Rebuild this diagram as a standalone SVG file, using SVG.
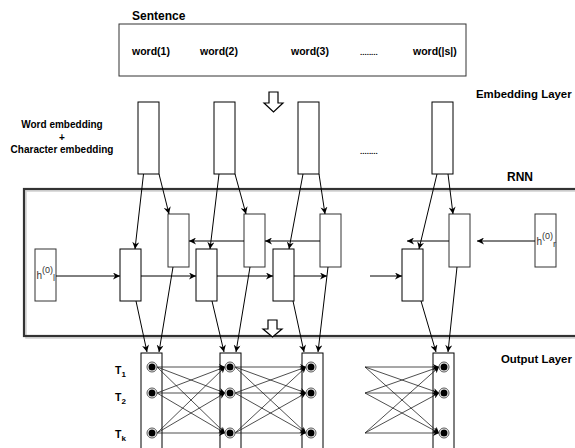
<svg xmlns="http://www.w3.org/2000/svg" width="575" height="448" viewBox="0 0 575 448">
<defs>
<marker id="ah" viewBox="0 0 10 10" refX="10" refY="5" markerWidth="8" markerHeight="7" markerUnits="userSpaceOnUse" orient="auto">
<path d="M0,0 L10,5 L0,10 L3,5 Z" fill="#000"/>
</marker>
<marker id="ahs" viewBox="0 0 10 10" refX="10" refY="5" markerWidth="7" markerHeight="6" markerUnits="userSpaceOnUse" orient="auto">
<path d="M0,0 L10,5 L0,10 L3,5 Z" fill="#000"/>
</marker>
</defs>
<style>
.b{fill:#fff;stroke:#000;stroke-width:1}
.g{fill:#fff;stroke:#333;stroke-width:1}
.t{font-family:"Liberation Sans",Arial,sans-serif;font-weight:bold;fill:#000}
.c{stroke:#000;stroke-width:1;fill:none;marker-end:url(#ah)}
.o{stroke:#222;stroke-width:0.8;fill:none;marker-end:url(#ahs)}
.h{font-family:"Liberation Sans",Arial,sans-serif;fill:#333;font-size:10px}
.ho{fill:#fff;stroke:#000;stroke-width:1.2}
</style>
<rect width="575" height="448" fill="#fff"/>

<!-- Sentence -->
<g id="sentence">
<text class="t" x="132" y="20" font-size="12">Sentence</text>
<rect class="g" x="119" y="24" width="347" height="52" stroke-width="1.3"/>
<text class="t" x="132" y="55" font-size="10.5">word(1)</text>
<text class="t" x="200" y="55" font-size="10.5">word(2)</text>
<text class="t" x="291" y="55" font-size="10.5">word(3)</text>
<text class="t" x="360" y="55" font-size="8" font-weight="normal" fill="#333">........</text>
<text class="t" x="413" y="55" font-size="10.5">word(|s|)</text>
</g>

<path id="arrow-top" class="ho" d="M269,92 H278 V103 H283 L273.5,112 L264,103 H269 Z"/>

<text class="t" x="476" y="98" font-size="11.4">Embedding Layer</text>
<g id="emb-label" class="t" font-size="10" text-anchor="middle">
<text x="62" y="128">Word embedding</text>
<text x="62" y="141">+</text>
<text x="62" y="153">Character embedding</text>
</g>

<g id="emb1"><rect class="b" x="138" y="102" width="21" height="72"/></g>
<g id="emb2"><rect class="b" x="214" y="102" width="21" height="72"/></g>
<g id="emb3"><rect class="b" x="298" y="102" width="21" height="72"/></g>
<g id="emb4"><rect class="b" x="432" y="102" width="21" height="72"/></g>
<text class="t" x="360" y="154" font-size="8" font-weight="normal" fill="#333">........</text>

<text class="t" x="507" y="181" font-size="12">RNN</text>

<!-- RNN frame -->
<g id="rnn-frame">
<rect x="26" y="191" width="560" height="147" fill="none" stroke="#d4d4d4" stroke-width="1.6"/>
<rect x="24" y="189" width="560" height="147" fill="none" stroke="#333" stroke-width="2.2"/>
</g>

<g id="h0l"><rect class="g" x="35" y="249" width="21" height="52"/>
<text class="h" x="36.5" y="279">h<tspan dy="-6" font-size="9">(0)</tspan><tspan dy="8" font-size="9">l</tspan></text></g>
<g id="h0r"><rect class="g" x="535" y="214" width="21" height="53"/>
<text class="h" x="536.5" y="245">h<tspan dy="-6" font-size="9">(0)</tspan><tspan dy="8" font-size="9">r</tspan></text></g>

<g id="f1"><rect class="b" x="120" y="249" width="21" height="52"/></g>
<g id="f2"><rect class="b" x="196" y="249" width="21" height="52"/></g>
<g id="f3"><rect class="b" x="273" y="249" width="21" height="52"/></g>
<g id="f4"><rect class="b" x="402" y="249" width="21" height="52"/></g>
<g id="bk1"><rect class="g" x="168" y="214" width="21" height="53"/></g>
<g id="bk2"><rect class="g" x="244" y="214" width="21" height="53"/></g>
<g id="bk3"><rect class="g" x="320" y="214" width="21" height="53"/></g>
<g id="bk4"><rect class="g" x="449" y="214" width="21" height="53"/></g>

<path id="arrow-bottom" class="ho" d="M268,320 H277 V329 H282 L272.5,337 L263,329 H268 Z"/>

<!-- Output -->
<text class="t" x="501" y="363" font-size="11.4">Output Layer</text>
<g id="tlabels" class="t" font-size="10.5">
<text x="115" y="374">T<tspan font-size="8" dy="3">1</tspan></text>
<text x="115" y="401">T<tspan font-size="8" dy="3">2</tspan></text>
<text x="115" y="438">T<tspan font-size="8" dy="3">k</tspan></text>
</g>
<g id="out1"><rect class="b" x="141" y="353" width="21" height="100"/></g>
<g id="out2"><rect class="b" x="220" y="353" width="21" height="100"/></g>
<g id="out3"><rect class="b" x="302" y="353" width="21" height="100"/></g>
<g id="out4"><rect class="b" x="433" y="353" width="21" height="100"/></g>

<!-- connectors -->
<g id="connectors">
<line class="c" x1="143.5" y1="174" x2="135" y2="249"/>
<line class="c" x1="159" y1="174" x2="169" y2="214"/>
<line class="c" x1="219" y1="174" x2="210" y2="249"/>
<line class="c" x1="235" y1="174" x2="246" y2="214"/>
<line class="c" x1="303" y1="174" x2="289" y2="249"/>
<line class="c" x1="319" y1="174" x2="325" y2="214"/>
<line class="c" x1="437" y1="174" x2="419" y2="249"/>
<line class="c" x1="448" y1="174" x2="453" y2="214"/>

<line class="c" x1="56" y1="276" x2="120" y2="276"/>
<line class="c" x1="141" y1="276" x2="196" y2="276"/>
<line class="c" x1="217" y1="276" x2="273" y2="276"/>
<line class="c" x1="294" y1="276" x2="327" y2="276"/>
<line class="c" x1="370" y1="276" x2="402" y2="276"/>

<line class="c" x1="244" y1="241" x2="189" y2="241"/>
<line class="c" x1="320" y1="241" x2="265" y2="241"/>
<line class="c" x1="449" y1="241" x2="407" y2="241"/>
<line class="c" x1="535" y1="241" x2="477" y2="241"/>

<line class="c" x1="136" y1="301" x2="147" y2="352"/>
<line class="c" x1="173" y1="267" x2="159" y2="352"/>
<line class="c" x1="212" y1="301" x2="224" y2="352"/>
<line class="c" x1="250" y1="267" x2="236" y2="352"/>
<line class="c" x1="293" y1="301" x2="304" y2="352"/>
<line class="c" x1="328" y1="267" x2="318" y2="352"/>
<line class="c" x1="421" y1="301" x2="436" y2="352"/>
<line class="c" x1="457" y1="267" x2="448" y2="352"/>

<!-- out1 -> out2 -->
<line class="o" x1="157" y1="367" x2="225" y2="367"/>
<line class="o" x1="157" y1="367" x2="225" y2="393"/>
<line class="o" x1="157" y1="367" x2="225" y2="433"/>
<line class="o" x1="157" y1="393" x2="225" y2="367"/>
<line class="o" x1="157" y1="393" x2="225" y2="393"/>
<line class="o" x1="157" y1="393" x2="225" y2="433"/>
<line class="o" x1="157" y1="433" x2="225" y2="367"/>
<line class="o" x1="157" y1="433" x2="225" y2="393"/>
<line class="o" x1="157" y1="433" x2="225" y2="433"/>
<!-- out2 -> out3 -->
<line class="o" x1="235" y1="367" x2="306" y2="367"/>
<line class="o" x1="235" y1="367" x2="306" y2="393"/>
<line class="o" x1="235" y1="367" x2="306" y2="433"/>
<line class="o" x1="235" y1="393" x2="306" y2="367"/>
<line class="o" x1="235" y1="393" x2="306" y2="393"/>
<line class="o" x1="235" y1="393" x2="306" y2="433"/>
<line class="o" x1="235" y1="433" x2="306" y2="367"/>
<line class="o" x1="235" y1="433" x2="306" y2="393"/>
<line class="o" x1="235" y1="433" x2="306" y2="433"/>
<!-- gap -> out4 -->
<line class="o" x1="365" y1="367" x2="439" y2="367"/>
<line class="o" x1="365" y1="367" x2="439" y2="393"/>
<line class="o" x1="365" y1="367" x2="439" y2="433"/>
<line class="o" x1="365" y1="393" x2="439" y2="367"/>
<line class="o" x1="365" y1="393" x2="439" y2="393"/>
<line class="o" x1="365" y1="393" x2="439" y2="433"/>
<line class="o" x1="365" y1="433" x2="439" y2="367"/>
<line class="o" x1="365" y1="433" x2="439" y2="393"/>
<line class="o" x1="365" y1="433" x2="439" y2="433"/>
</g>

<!-- dots -->
<g id="dots">
<g fill="#fff" stroke="#555" stroke-width="1">
<circle cx="152" cy="367" r="5"/><circle cx="152" cy="393" r="5"/><circle cx="152" cy="433" r="5"/>
<circle cx="230" cy="367" r="5"/><circle cx="230" cy="393" r="5"/><circle cx="230" cy="433" r="5"/>
<circle cx="311" cy="367" r="5"/><circle cx="311" cy="393" r="5"/><circle cx="311" cy="433" r="5"/>
<circle cx="444" cy="367" r="5"/><circle cx="444" cy="393" r="5"/><circle cx="444" cy="433" r="5"/>
</g>
<g fill="#000">
<circle cx="152" cy="367" r="3.5"/><circle cx="152" cy="393" r="3.5"/><circle cx="152" cy="433" r="3.5"/>
<circle cx="230" cy="367" r="3.5"/><circle cx="230" cy="393" r="3.5"/><circle cx="230" cy="433" r="3.5"/>
<circle cx="311" cy="367" r="3.5"/><circle cx="311" cy="393" r="3.5"/><circle cx="311" cy="433" r="3.5"/>
<circle cx="444" cy="367" r="3.5"/><circle cx="444" cy="393" r="3.5"/><circle cx="444" cy="433" r="3.5"/>
</g>
</g>
</svg>
